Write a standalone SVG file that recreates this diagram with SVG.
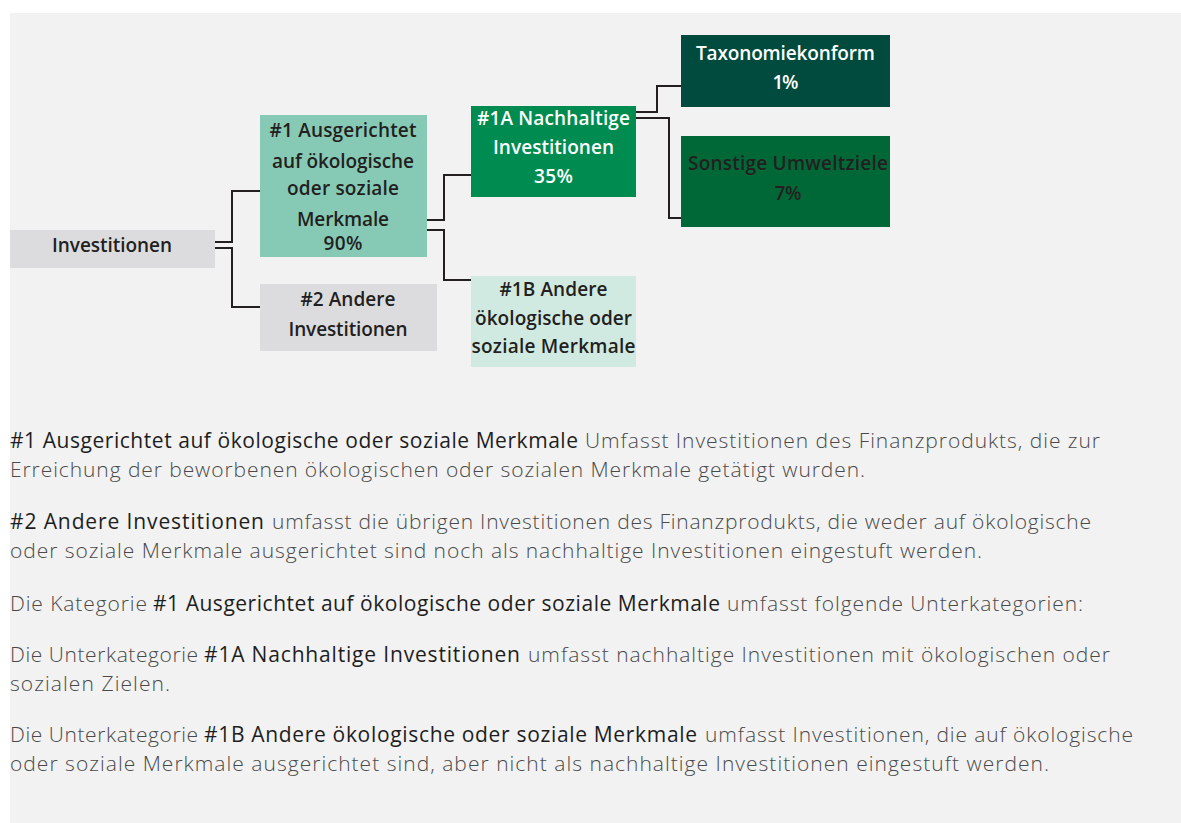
<svg xmlns="http://www.w3.org/2000/svg" width="1181" height="823" viewBox="0 0 1181 823">
<style>
.nt{font-family:"Open Sans","Liberation Sans",sans-serif;font-size:19px;font-weight:600;text-anchor:middle;fill:#231f20}
.w{fill:#ffffff}
.b{font-family:"Open Sans","Liberation Sans",sans-serif;font-size:21px;font-weight:500;fill:#1e1e1e}
.n{font-family:"Open Sans","Liberation Sans",sans-serif;font-size:21px;font-weight:300;fill:#4a4a4a}
.c{fill:none;stroke:#231f20;stroke-width:2}
</style>
<rect x="0" y="0" width="1181" height="823" fill="#ffffff"/>
<rect x="10" y="13" width="1171" height="810" fill="#f2f2f2"/>
<g id="connectors">
<path class="c" d="M215,242 H232 V191 H260"/>
<path class="c" d="M215,248 H232 V307 H260"/>
<path class="c" d="M427,220 H444 V175 H471"/>
<path class="c" d="M427,230 H444 V280 H471"/>
<path class="c" d="M636,112 H657 V86 H681"/>
<path class="c" d="M636,118 H669 V218 H681"/>
</g>
<g id="n-investitionen">
<rect x="10" y="230" width="205" height="38" fill="#dcdcde"/>
<text class="nt" x="112" y="252" textLength="120">Investitionen</text>
</g>
<g id="n-1">
<rect x="260" y="115" width="167" height="142" fill="#86cab6"/>
<text class="nt" x="343" y="137" textLength="147">#1 Ausgerichtet</text>
<text class="nt" x="343" y="168" textLength="142">auf ökologische</text>
<text class="nt" x="343" y="195" textLength="112">oder soziale</text>
<text class="nt" x="343" y="226" textLength="92">Merkmale</text>
<text class="nt" x="343" y="250" textLength="39">90%</text>
</g>
<g id="n-2">
<rect x="260" y="284" width="177" height="67" fill="#dcdcde"/>
<text class="nt" x="348" y="306" textLength="95">#2 Andere</text>
<text class="nt" x="348" y="336" textLength="119">Investitionen</text>
</g>
<g id="n-1a">
<rect x="471" y="106" width="165" height="91" fill="#008c50"/>
<text class="nt w" x="553.5" y="125" textLength="153">#1A Nachhaltige</text>
<text class="nt w" x="553.5" y="154" textLength="121">Investitionen</text>
<text class="nt w" x="553.5" y="183" textLength="39">35%</text>
</g>
<g id="n-1b">
<rect x="471" y="276" width="165" height="91" fill="#d0eae2"/>
<text class="nt" x="553.5" y="296" textLength="108">#1B Andere</text>
<text class="nt" x="553.5" y="325" textLength="157">ökologische oder</text>
<text class="nt" x="553.5" y="353" textLength="164">soziale Merkmale</text>
</g>
<g id="n-taxo">
<rect x="681" y="35" width="209" height="72" fill="#004b3d"/>
<text class="nt w" x="785.5" y="60" textLength="179">Taxonomiekonform</text>
<text class="nt w" x="785.5" y="89" textLength="26">1%</text>
</g>
<g id="n-sonst">
<rect x="681" y="136" width="209" height="91" fill="#006837"/>
<text class="nt" x="788" y="170" textLength="200">Sonstige Umweltziele</text>
<text class="nt" x="788" y="200" textLength="27">7%</text>
</g>
<g id="legend">
<text class="b" x="10" y="448" textLength="568">#1 Ausgerichtet auf ökologische oder soziale Merkmale</text>
<text class="n" x="585" y="448" textLength="515">Umfasst Investitionen des Finanzprodukts, die zur</text>
<text class="n" x="10" y="477" textLength="855">Erreichung der beworbenen ökologischen oder sozialen Merkmale getätigt wurden.</text>
<text class="b" x="10" y="529" textLength="254">#2 Andere Investitionen</text>
<text class="n" x="272" y="529" textLength="819">umfasst die übrigen Investitionen des Finanzprodukts, die weder auf ökologische</text>
<text class="n" x="10" y="558" textLength="972">oder soziale Merkmale ausgerichtet sind noch als nachhaltige Investitionen eingestuft werden.</text>
<text class="n" x="10" y="611" textLength="137">Die Kategorie</text>
<text class="b" x="153" y="611" textLength="567">#1 Ausgerichtet auf ökologische oder soziale Merkmale</text>
<text class="n" x="727" y="611" textLength="356">umfasst folgende Unterkategorien:</text>
<text class="n" x="10" y="662" textLength="188">Die Unterkategorie</text>
<text class="b" x="204" y="662" textLength="316">#1A Nachhaltige Investitionen</text>
<text class="n" x="528" y="662" textLength="582">umfasst nachhaltige Investitionen mit ökologischen oder</text>
<text class="n" x="10" y="691" textLength="160">sozialen Zielen.</text>
<text class="n" x="10" y="742" textLength="188">Die Unterkategorie</text>
<text class="b" x="204" y="742" textLength="493">#1B Andere ökologische oder soziale Merkmale</text>
<text class="n" x="705" y="742" textLength="428">umfasst Investitionen, die auf ökologische</text>
<text class="n" x="10" y="771" textLength="1039">oder soziale Merkmale ausgerichtet sind, aber nicht als nachhaltige Investitionen eingestuft werden.</text>
</g>
</svg>
